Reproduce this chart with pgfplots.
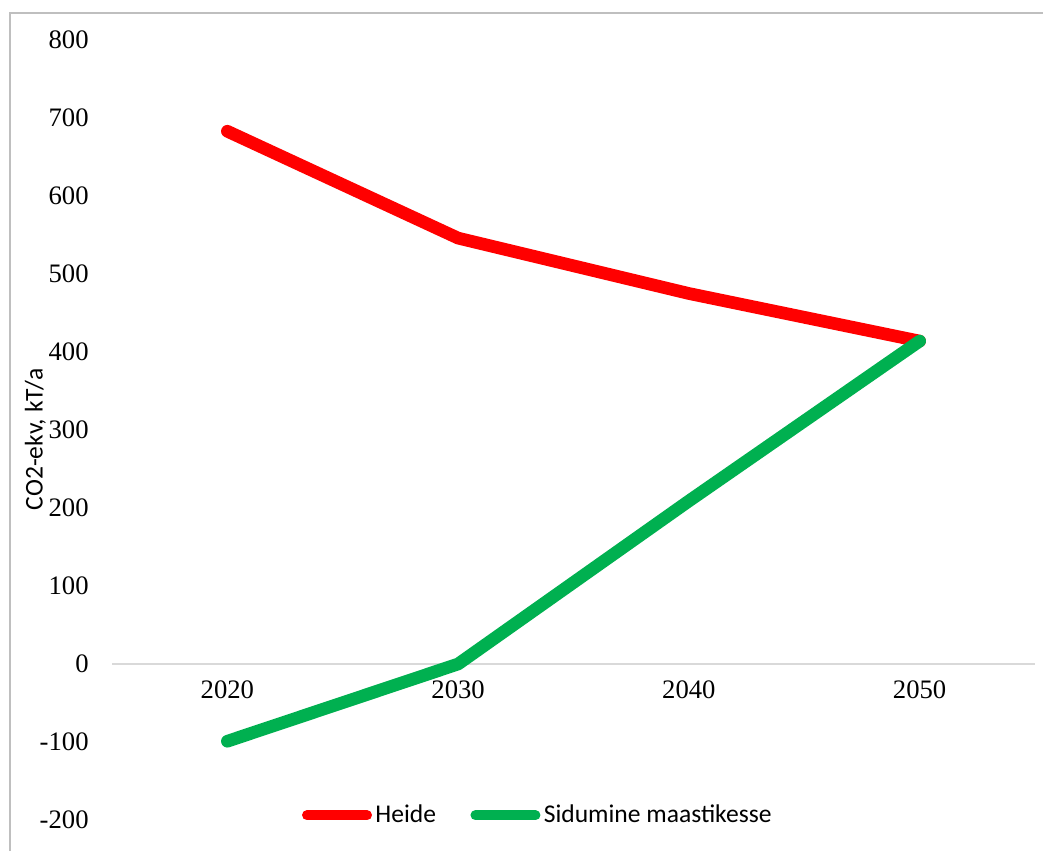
\documentclass[border=0pt]{standalone}
\usepackage{fontspec}
\setmainfont{Carlito}
\newfontfamily\tickfont{Liberation Serif}
\usepackage{pgfplots}
\pgfplotsset{compat=1.18}
\definecolor{myred}{HTML}{FF0000}
\definecolor{mygreen}{HTML}{00B050}
\begin{document}
\begin{tikzpicture}[x=0.45pt,y=0.45pt]
\path[use as bounding box] (0,0) rectangle (1043,851);
\draw[color=black!25, line width=0.7pt] (10,0) -- (10,838) -- (1043,838);
\begin{axis}[
  at={(50.4pt,13.95pt)}, anchor=south west,
  scale only axis, width=415.35pt, height=351pt,
  xmin=-0.5, xmax=3.5, ymin=-200, ymax=800,
  axis x line=middle, axis y line=left,
  x axis line style={draw=black!15, line width=0.5pt, -},
  y axis line style={draw=none},
  xtick={0,1,2,3}, xticklabels={2020,2030,2040,2050},
  ytick={-200,-100,...,800},
  major tick length=0pt,
  tick style={draw=none},
  /pgf/number format/assume math mode=true,
  tick label style={font=\tickfont\fontsize{12}{14}\selectfont},
  xticklabel style={anchor=north, yshift=-4pt},
  yticklabel style={anchor=east, xshift=-7pt},
  ylabel={CO2-ekv, kT/a},
  ylabel style={at={(axis description cs:-0.083,0.488)}, rotate=0, anchor=center, font=\fontsize{11.5}{13}\selectfont},
  legend columns=2,
  legend style={draw=none, fill=none, at={(axis description cs:0.462,0.006)}, anchor=center,
    font=\fontsize{11.5}{13}\selectfont, /tikz/every even column/.append style={column sep=14pt},
    inner sep=0pt, nodes={inner xsep=1.5pt}},
  legend image code/.code={\draw[#1, line width=4.5pt] (0,0) -- (27pt,0);},
  clip=false,
]
\addplot[myred, line width=5.7pt, line cap=round, line join=round] coordinates {(0,683) (1,546) (2,475) (3,414)};
\addlegendentry{Heide}
\addplot[mygreen, line width=5.7pt, line cap=round, line join=round] coordinates {(0,-99) (1,0) (2,209) (3,414)};
\addlegendentry{Sidumine maastikesse}
\end{axis}
\end{tikzpicture}
\end{document}
